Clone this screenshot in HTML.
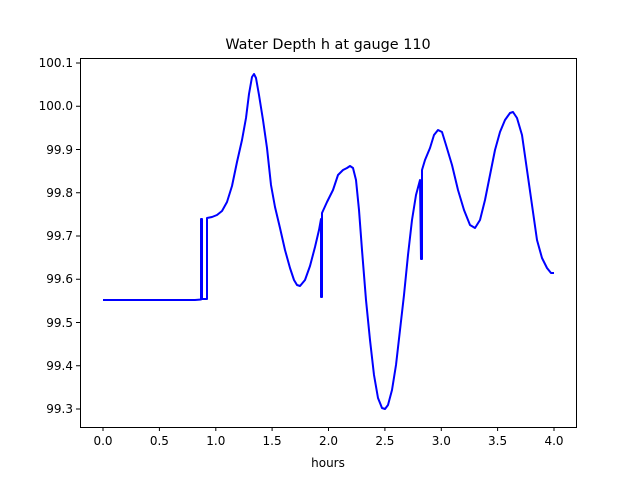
<!DOCTYPE html>
<html><head><style>body{margin:0;background:#fff}</style></head><body>
<svg width="640" height="480" xmlns="http://www.w3.org/2000/svg" font-family="DejaVu Sans, Liberation Sans, sans-serif">
<rect width="640" height="480" fill="#fff"/>
<text x="328" y="49" font-size="14.4" text-anchor="middle">Water Depth h at gauge 110</text>
<polyline fill="none" stroke="#0000ff" stroke-width="2" stroke-linejoin="round" points="103,300 195,300 201,299.5 201,219 202,219 202,299 207,299 207,218 212,217 217,215 222,211 227,202 232,186 237,162 242,140 246,118 249,94 252,77 254,74 256,78 259,95 263,120 267,148 271,185 275,207 280,228 285,250 290,268 294,280 297,285 300,286 305,280 310,266 315,247 319,230 321,219 321,297 322,297 322,213 327,202 333,190 338,175 343,170 347,168 350,166 353,168 356,180 359,210 362,250 366,300 370,340 374,375 378,398 382,408 385,409 388,405 392,390 396,365 400,330 404,295 408,255 412,220 416,195 420,180 421,259 422,259 422,170 425,160 430,148 434,135 438,130 442,132 446,145 452,165 458,190 464,210 470,225 475,228 480,220 485,200 490,175 495,150 500,132 505,120 510,113 513,112 517,118 522,135 527,170 532,205 537,240 542,258 547,268 551,273 554,273"/>
<rect x="80.5" y="58.5" width="496" height="369" fill="none" stroke="#000" stroke-width="1"/>
<g stroke="#000">
<line x1="103" y1="427" x2="103" y2="431"/><line x1="159.4" y1="427" x2="159.4" y2="431"/><line x1="215.8" y1="427" x2="215.8" y2="431"/><line x1="272.1" y1="427" x2="272.1" y2="431"/><line x1="328.5" y1="427" x2="328.5" y2="431"/><line x1="384.9" y1="427" x2="384.9" y2="431"/><line x1="441.3" y1="427" x2="441.3" y2="431"/><line x1="497.6" y1="427" x2="497.6" y2="431"/><line x1="554" y1="427" x2="554" y2="431"/>
<line x1="76" y1="409" x2="80" y2="409"/><line x1="76" y1="365.75" x2="80" y2="365.75"/><line x1="76" y1="322.5" x2="80" y2="322.5"/><line x1="76" y1="279.25" x2="80" y2="279.25"/><line x1="76" y1="236" x2="80" y2="236"/><line x1="76" y1="192.75" x2="80" y2="192.75"/><line x1="76" y1="149.5" x2="80" y2="149.5"/><line x1="76" y1="106.25" x2="80" y2="106.25"/><line x1="76" y1="63" x2="80" y2="63"/>
</g>
<g font-size="12" text-anchor="middle">
<text x="103" y="445">0.0</text><text x="159.4" y="445">0.5</text><text x="215.8" y="445">1.0</text><text x="272.1" y="445">1.5</text><text x="328.5" y="445">2.0</text><text x="384.9" y="445">2.5</text><text x="441.3" y="445">3.0</text><text x="497.6" y="445">3.5</text><text x="554" y="445">4.0</text>
<text x="328" y="467">hours</text>
</g>
<g font-size="12" text-anchor="end">
<text x="73" y="413">99.3</text><text x="73" y="370">99.4</text><text x="73" y="327">99.5</text><text x="73" y="283">99.6</text><text x="73" y="240">99.7</text><text x="73" y="197">99.8</text><text x="73" y="154">99.9</text><text x="73" y="110">100.0</text><text x="73" y="67">100.1</text>
</g>
</svg>
</body></html>
